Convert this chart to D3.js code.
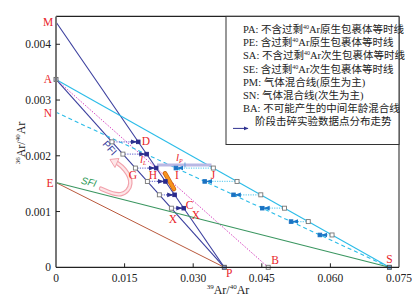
<!DOCTYPE html>
<html><head><meta charset="utf-8">
<script src="https://cdn.jsdelivr.net/npm/d3@7"></script>
<style>body{margin:0;background:#fff}svg{display:block}</style>
</head><body>
<svg id="c" width="417" height="305"></svg>
<script>
// ---- data ----
const xTicks = [0, 0.015, 0.030, 0.045, 0.060, 0.075];
const yTicks = [0, 0.001, 0.002, 0.003, 0.004];
const xTickLabels = ["0", "0.015", "0.030", "0.045", "0.060", "0.075"];
const yTickLabels = ["0", "0.001", "0.002", "0.003", "0.004"];
const pointNames = ["M", "A", "N", "E", "P", "B", "S"];
const pointX = [0, 0, 0, 0, 0.0368, 0.0464, 0.0729];
const pointY = [0.0044, 0.00337, 0.00278, 0.00152, 0, 0, 0];
const lineNames = ["PM", "PA", "BA", "SA", "SN", "PE", "SE"];
// primary inclusions: hollow on PA -> filled on PM
const priY      = [0.00225, 0.00203, 0.00178, 0.00154, 0.00130, 0.00106];
const priOpenX  = [0.01223, 0.01463, 0.01736, 0.01998, 0.02260, 0.02523];
const priFillX  = [0.01798, 0.01982, 0.02191, 0.02392, 0.02593, 0.02793];
// secondary inclusions: hollow on SA -> filled on SN
const secY      = [0.00178, 0.00154, 0.00130, 0.00106, 0.00082, 0.00058];
const secOpenX  = [0.0344, 0.03959, 0.04478, 0.04997, 0.05516, 0.06036];
const secFillX  = [0.02622, 0.03252, 0.03881, 0.04510, 0.05140, 0.05770];
const tagNames = ["D", "G", "H", "I", "J", "C", "X", "X"];
const tagX = [0.01968, 0.01684, 0.02121, 0.02646, 0.03433, 0.0292, 0.02558, 0.0306];
const tagY = [0.00227, 0.001656, 0.001656, 0.001656, 0.001656, 0.00112, 0.000861, 0.000945];
const legendItems = [
  ["PA: 不含过剩", "40", "Ar原生包裹体等时线"],
  ["PE: 含过剩", "40", "Ar原生包裹体等时线"],
  ["SA: 不含过剩", "40", "Ar次生包裹体等时线"],
  ["SE: 含过剩", "40", "Ar次生包裹体等时线"],
  ["PM: 气体混合线(原生为主)", "", ""],
  ["SN: 气体混合线(次生为主)", "", ""],
  ["BA: 不可能产生的中间年龄混合线", "", ""],
  ["阶段击碎实验数据点分布走势", "", ""]
];

// ---- drawing ----
const svg = d3.select("#c");
const x = d3.scaleLinear().domain([0, 0.075]).range([56, 399]);
const y = d3.scaleLinear().domain([0, 0.0045]).range([267.3, 16.4]);
const P = {}; pointNames.forEach((n, i) => P[n] = [pointX[i], pointY[i]]);
const lineStyle = {
  PM: {c: "#3b3f9e", w: 1.1, d: null},
  PA: {c: "#3b3f9e", w: 1.1, d: null},
  BA: {c: "#d846c2", w: 1, d: "1.5,1.5"},
  SA: {c: "#2bbce8", w: 1.1, d: null},
  SN: {c: "#2bbce8", w: 1.1, d: "4,3"},
  PE: {c: "#b9583c", w: 1, d: null},
  SE: {c: "#3a9660", w: 1.1, d: null}
};
const defs = svg.append("defs");
function marker(id, col) {
  defs.append("marker").attr("id", id).attr("viewBox", "0 0 10 10").attr("refX", 9).attr("refY", 5)
    .attr("markerWidth", 5).attr("markerHeight", 5).attr("orient", "auto")
    .append("path").attr("d", "M0,1L10,5L0,9z").attr("fill", col);
}
marker("ab", "#2e3190"); marker("ac", "#1a78c8"); marker("al", "#2e3190");

const g = svg.append("g");
// frame
g.append("line").attr("x1", x(0)).attr("x2", x(0.075)).attr("y1", y(0.0045)).attr("y2", y(0.0045)).attr("stroke", "#222").attr("stroke-width", 1.2);
g.append("line").attr("x1", x(0.075)).attr("x2", x(0.075)).attr("y1", y(0.0045)).attr("y2", y(0)).attr("stroke", "#444").attr("stroke-width", 1.2);

// lines
lineNames.forEach(n => {
  const a = P[n[0]], b = P[n[1]], s = lineStyle[n];
  g.append("line").attr("x1", x(a[0])).attr("y1", y(a[1])).attr("x2", x(b[0])).attr("y2", y(b[1]))
    .attr("stroke", s.c).attr("stroke-width", s.w).attr("stroke-dasharray", s.d);
});

// lavender bar H..J
g.append("line").attr("x1", x(0.02209)).attr("x2", x(0.0340)).attr("y1", y(0.001835)).attr("y2", y(0.001835))
  .attr("stroke", "#b9b8e4").attr("stroke-width", 3);
g.append("line").attr("x1", x(0.0282)).attr("x2", x(0.0282)).attr("y1", y(0.00188)).attr("y2", y(0.00179))
  .attr("stroke", "#5aa0e0").attr("stroke-width", 1);

// arrows primary
priY.forEach((v, i) => {
  g.append("line").attr("x1", x(priOpenX[i]) + 2).attr("x2", x(priFillX[i]) - 2).attr("y1", y(v)).attr("y2", y(v))
    .attr("stroke", "#7a7ad6").attr("stroke-width", 1.3).attr("stroke-dasharray", "1.2,1.2");
  g.append("line").attr("x1", x(priFillX[i]) - 8).attr("x2", x(priFillX[i]) - 2).attr("y1", y(v)).attr("y2", y(v))
    .attr("stroke", "#2e3190").attr("stroke-width", 1.2).attr("marker-end", "url(#ab)");
});
secY.forEach((v, i) => {
  g.append("line").attr("x1", x(secOpenX[i]) - 2).attr("x2", x(secFillX[i]) + 2).attr("y1", y(v)).attr("y2", y(v))
    .attr("stroke", "#6fd0f0").attr("stroke-width", 1.3).attr("stroke-dasharray", "1.2,1.2");
  g.append("line").attr("x1", x(secFillX[i]) + 7).attr("x2", x(secFillX[i]) + 2).attr("y1", y(v)).attr("y2", y(v))
    .attr("stroke", "#1a78c8").attr("stroke-width", 1.2).attr("marker-end", "url(#ac)");
});

// orange segment
g.append("line").attr("x1", x(0.02384)).attr("y1", y(0.001686)).attr("x2", x(0.0258)).attr("y2", y(0.001404))
  .attr("stroke", "#c86010").attr("stroke-width", 4.5).attr("stroke-linecap", "round");
g.append("line").attr("x1", x(0.02384)).attr("y1", y(0.001686)).attr("x2", x(0.0258)).attr("y2", y(0.001404))
  .attr("stroke", "#f7931e").attr("stroke-width", 3).attr("stroke-linecap", "round");

// pink curved arrow
const arrowPts = [[0.00985, 0.00141], [0.0145, 0.00124], [0.0170, 0.00150], [0.0150, 0.00178], [0.0132, 0.00188]];
const arrowLine = d3.line().x(d => x(d[0])).y(d => y(d[1])).curve(d3.curveBasis);
g.append("path").attr("d", arrowLine(arrowPts)).attr("fill", "none").attr("stroke", "#f2a2ac").attr("stroke-width", 4.5).attr("stroke-linecap", "round");
g.append("path").attr("d", arrowLine(arrowPts)).attr("fill", "none").attr("stroke", "#fde6e8").attr("stroke-width", 2.2).attr("stroke-linecap", "round");
const tip = [x(0.0118), y(0.00188)];
g.append("path").attr("d", `M${tip[0]},${tip[1] - 3}L${tip[0] + 9},${tip[1] - 4}L${tip[0] + 5},${tip[1] + 5}Z`)
  .attr("fill", "#fde6e8").attr("stroke", "#f2a2ac").attr("stroke-width", 1);

// squares
function sq(cx, cy, fill, stroke, s) {
  g.append("rect").attr("x", cx - s / 2).attr("y", cy - s / 2).attr("width", s).attr("height", s)
    .attr("fill", fill).attr("stroke", stroke).attr("stroke-width", 0.9);
}
priY.forEach((v, i) => { sq(x(priOpenX[i]), y(v), "#fff", "#777", 4); sq(x(priFillX[i]), y(v), "#2a2a8c", "#2a2a8c", 3.6); });
secY.forEach((v, i) => { sq(x(secOpenX[i]), y(v), "#fff", "#777", 4); sq(x(secFillX[i]), y(v), "#1a72c2", "#1a72c2", 3.6); });
sq(x(P.A[0]), y(P.A[1]), "#c8d0f0", "#666", 4);
sq(x(P.P[0]), y(P.P[1]), "#8aa0e0", "#555", 4);
sq(x(P.B[0]), y(P.B[1]), "#fff", "#777", 4);
sq(x(P.S[0]), y(P.S[1]), "#6ab0e8", "#555", 4);

// axes
g.append("line").attr("x1", x(0)).attr("x2", x(0)).attr("y1", y(0.0045)).attr("y2", y(0)).attr("stroke", "#777").attr("stroke-width", 2);
g.append("line").attr("x1", x(0)).attr("x2", x(0.075)).attr("y1", y(0)).attr("y2", y(0)).attr("stroke", "#222").attr("stroke-width", 1.3);
const serif = "'Liberation Serif','Times New Roman',serif";
xTicks.forEach((t, i) => {
  if (i > 0 && i < xTicks.length - 1) g.append("line").attr("x1", x(t)).attr("x2", x(t)).attr("y1", y(0)).attr("y2", y(0) - 4).attr("stroke", "#222");
  g.append("text").attr("x", x(t)).attr("y", y(0) + 15).attr("text-anchor", "middle")
    .attr("font-family", serif).attr("font-size", 11.5).attr("fill", "#222").text(xTickLabels[i]);
});
yTicks.forEach((t, i) => {
  if (i > 0) g.append("line").attr("x1", x(0)).attr("x2", x(0) + 4).attr("y1", y(t)).attr("y2", y(t)).attr("stroke", "#222");
  g.append("text").attr("x", x(0) - 5).attr("y", y(t) + 4).attr("text-anchor", "end")
    .attr("font-family", serif).attr("font-size", 11.5).attr("fill", "#222").text(yTickLabels[i]);
});
// axis titles
const xt = g.append("text").attr("x", 228).attr("y", 294).attr("text-anchor", "middle").attr("font-family", serif).attr("font-size", 12).attr("fill", "#222");
xt.append("tspan").attr("font-size", 7).attr("dy", -5).text("39");
xt.append("tspan").attr("dy", 5).text("Ar/");
xt.append("tspan").attr("font-size", 7).attr("dy", -5).text("40");
xt.append("tspan").attr("dy", 5).text("Ar");
const yt = g.append("text").attr("transform", "translate(25,143) rotate(-90)").attr("text-anchor", "middle").attr("font-family", serif).attr("font-size", 12).attr("fill", "#222");
yt.append("tspan").attr("font-size", 7).attr("dy", -5).text("36");
yt.append("tspan").attr("dy", 5).text("Ar/");
yt.append("tspan").attr("font-size", 7).attr("dy", -5).text("40");
yt.append("tspan").attr("dy", 5).text("Ar");

// point labels
const red = "#e8242a";
const labelOff = {M: [-8, 4], A: [-8, 4], N: [-8, 5], E: [-6, 4], P: [5, 10], B: [7, -3], S: [0, -4]};
pointNames.forEach((n, i) => {
  g.append("text").attr("x", x(pointX[i]) + labelOff[n][0]).attr("y", y(pointY[i]) + labelOff[n][1])
    .attr("text-anchor", "middle").attr("font-family", serif).attr("font-size", 11.5).attr("fill", red).text(n);
});
tagNames.forEach((n, i) => {
  g.append("text").attr("x", x(tagX[i])).attr("y", y(tagY[i]) + 4).attr("text-anchor", "middle")
    .attr("font-family", serif).attr("font-size", 11.5).attr("fill", red).text(n);
});
// I_L, I_P
[["L", 0.01837, 0.00195], ["P", 0.02624, 0.00198]].forEach(d => {
  const t = g.append("text").attr("x", x(d[1])).attr("y", y(d[2]) + 4).attr("font-family", serif).attr("font-style", "italic")
    .attr("font-size", 11).attr("fill", red);
  t.append("tspan").text("l");
  t.append("tspan").attr("font-size", 6).attr("dy", 2).text(d[0]);
});
// PFI, SFI
g.append("text").attr("transform", `translate(${x(0.0112)},${y(0.00210)}) rotate(48)`).attr("text-anchor", "middle")
  .attr("font-family", "'Liberation Sans',Arial,sans-serif").attr("font-size", 10).attr("fill", "#3b3f9e").text("PFI");
g.append("text").attr("transform", `translate(${x(0.00700)},${y(0.00147)}) rotate(14)`).attr("text-anchor", "middle")
  .attr("font-family", "'Liberation Sans',Arial,sans-serif").attr("font-style", "italic").attr("font-size", 10).attr("fill", "#2f9a58").text("SFI");

// legend
g.append("rect").attr("x", 226).attr("y", y(0.0045)).attr("width", x(0.075) - 226).attr("height", 144.5 - y(0.0045))
  .attr("fill", "#fff").attr("stroke", "#333").attr("stroke-width", 1);
const cjk = "'Liberation Serif','Noto Sans CJK SC',serif";
legendItems.forEach((it, i) => {
  const ty = 33 + i * 13.2;
  const last = i === legendItems.length - 1;
  const t = g.append("text").attr("x", last ? 255 : 243).attr("y", ty).attr("font-family", cjk).attr("font-size", 10.5).attr("fill", "#222");
  t.append("tspan").text(it[0]);
  if (it[1]) { t.append("tspan").attr("font-size", 6).attr("dy", -4).text(it[1]); t.append("tspan").attr("dy", 4).text(it[2]); }
  if (last) g.append("line").attr("x1", 233).attr("x2", 248).attr("y1", ty + 3).attr("y2", ty + 3).attr("stroke", "#2e3190").attr("stroke-width", 1).attr("marker-end", "url(#al)");
});
</script>
</body></html>
